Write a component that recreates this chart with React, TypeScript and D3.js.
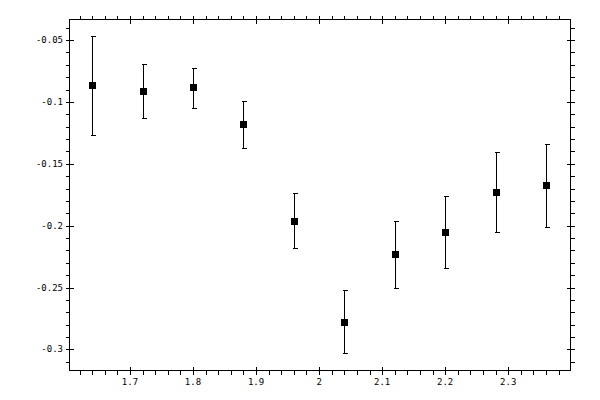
import * as d3 from "d3";
import React from "react";

// energy-like x positions and measured values with asymmetric errors
const xValues = [1.64, 1.72, 1.8, 1.88, 1.96, 2.04, 2.12, 2.2, 2.28, 2.36];
const yValues = [-0.0865, -0.0914, -0.0881, -0.118, -0.1962, -0.2777, -0.2228, -0.2051, -0.1728, -0.1672];
const yUpper = [-0.0465, -0.0691, -0.0723, -0.099, -0.1736, -0.2519, -0.196, -0.1764, -0.1406, -0.1336];
const yLower = [-0.1266, -0.1131, -0.1051, -0.1373, -0.218, -0.3027, -0.2502, -0.2339, -0.2051, -0.201];

const xMajor = [1.7, 1.8, 1.9, 2.0, 2.1, 2.2, 2.3];
const xLabels = ["1.7", "1.8", "1.9", "2", "2.1", "2.2", "2.3"];
const yMajor = [-0.05, -0.1, -0.15, -0.2, -0.25, -0.3];
const yLabels = ["-0.05", "-0.1", "-0.15", "-0.2", "-0.25", "-0.3"];

const left = 69, right = 570, top = 19, bottom = 370;

const App = () => {
	const x = d3.scaleLinear().domain([1.6033, 2.398]).range([left, right]);
	const y = d3.scaleLinear().domain([-0.3166, -0.033]).range([bottom, top]);

	const xMinor = d3.range(81).map((i) => 1.6 + i * 0.02).filter((v) => x(v) > left + 0.5 && x(v) < right - 0.5);
	const yMinor = d3.range(40).map((i) => -0.33 + i * 0.01).filter((v) => y(v) > top + 0.5 && y(v) < bottom - 0.5);

	const px = (v: number) => Math.round(x(v)) + 0.5;
	const py = (v: number) => Math.round(y(v)) + 0.5;
	const font = { fontFamily: "'DejaVu Sans Mono', monospace", fontSize: 9 };

	return (
		<div style={{ position: "fixed", left: 0, top: 0 }}>
			<svg width={600} height={400} style={{ display: "block", background: "#fff" }} shapeRendering="crispEdges">
				<g stroke="#000" strokeWidth={1} fill="none">
					<rect x={left + 0.5} y={top + 0.5} width={right - left} height={bottom - top} />
					{xMinor.map((v, i) => (
						<g key={"xm" + i}>
							<line x1={px(v)} x2={px(v)} y1={bottom + 0.5} y2={bottom + 4.5} />
							<line x1={px(v)} x2={px(v)} y1={top + 0.5} y2={top - 3.5} />
						</g>
					))}
					{xMajor.map((v, i) => (
						<g key={"xM" + i}>
							<line x1={px(v)} x2={px(v)} y1={bottom - 3.5} y2={bottom + 4.5} />
							<line x1={px(v)} x2={px(v)} y1={top - 3.5} y2={top + 4.5} />
						</g>
					))}
					{yMinor.map((v, i) => (
						<g key={"ym" + i}>
							<line x1={left + 0.5} x2={left - 3.5} y1={py(v)} y2={py(v)} />
							<line x1={right + 0.5} x2={right + 4.5} y1={py(v)} y2={py(v)} />
						</g>
					))}
					{yMajor.map((v, i) => (
						<g key={"yM" + i}>
							<line x1={left - 3.5} x2={left + 4.5} y1={py(v)} y2={py(v)} />
							<line x1={right - 3.5} x2={right + 4.5} y1={py(v)} y2={py(v)} />
						</g>
					))}
				</g>
				<g style={font} fill="#000">
					{xMajor.map((v, i) => (
						<text key={"xl" + i} x={x(v)} y={bottom + 15} textAnchor="middle">
							{xLabels[i]}
						</text>
					))}
					{yMajor.map((v, i) => (
						<text key={"yl" + i} x={left - 6} y={y(v) + 3} textAnchor="end">
							{yLabels[i]}
						</text>
					))}
				</g>
				<g stroke="#000" strokeWidth={1}>
					{xValues.map((xv, i) => (
						<g key={"e" + i}>
							<line x1={px(xv)} x2={px(xv)} y1={py(yUpper[i])} y2={py(yLower[i])} />
							<line x1={px(xv) - 2} x2={px(xv) + 3} y1={py(yUpper[i])} y2={py(yUpper[i])} />
							<line x1={px(xv) - 2} x2={px(xv) + 3} y1={py(yLower[i])} y2={py(yLower[i])} />
						</g>
					))}
				</g>
				<g fill="#000">
					{xValues.map((xv, i) => (
						<rect key={"p" + i} x={Math.round(x(xv)) - 3} y={Math.round(y(yValues[i])) - 3} width={7} height={7} />
					))}
				</g>
			</svg>
		</div>
	);
};

export default App;
